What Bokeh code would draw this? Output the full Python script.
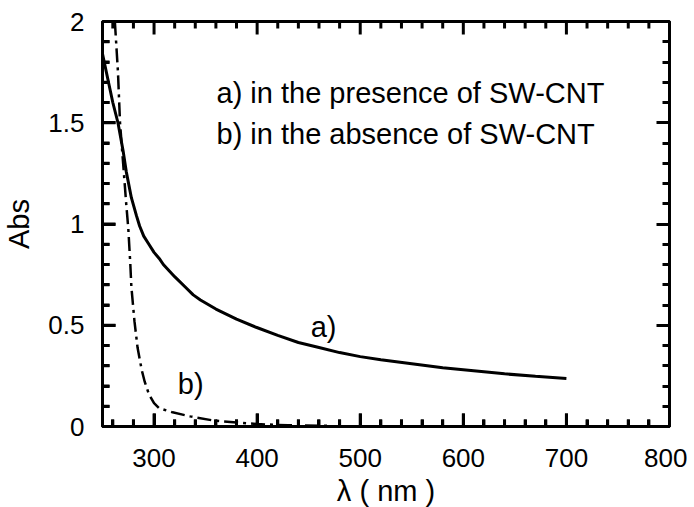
from bokeh.plotting import figure
from bokeh.models import (Range1d, FixedTicker, CustomJSTickFormatter, LinearAxis,
                          CustomLabelingPolicy)
from bokeh.core.properties import value
from bokeh.embed import file_html
from bokeh.resources import INLINE

# Curve a) in the presence of SW-CNT
wl_a = [250, 255, 260, 265, 270, 273, 278, 283, 286, 290, 295, 300, 305, 309,
        320, 330, 338, 345, 360, 370, 380, 399, 420, 440, 460, 480, 500, 520,
        550, 580, 610, 640, 670, 700]
abs_a = [1.84, 1.72, 1.60, 1.50, 1.36, 1.26, 1.13, 1.04, 0.99, 0.94, 0.90, 0.86,
         0.83, 0.80, 0.74, 0.69, 0.65, 0.625, 0.58, 0.555, 0.53, 0.49, 0.45,
         0.415, 0.39, 0.365, 0.345, 0.33, 0.31, 0.29, 0.275, 0.26, 0.248, 0.237]

# Curve b) in the absence of SW-CNT
wl_b = [262, 265, 267, 270, 273, 275, 277, 278, 281, 284, 288, 291, 295, 300,
        305, 318, 335, 357, 380, 400, 430, 470]
abs_b = [2.0, 1.75, 1.5, 1.3, 1.1, 0.98, 0.8, 0.69, 0.52, 0.39, 0.28, 0.22, 0.16,
         0.115, 0.09, 0.07, 0.05, 0.03, 0.02, 0.012, 0.006, 0.003]

# Tick values
x_major = [300, 400, 500, 600, 700, 800]
x_minor = [v for v in range(260, 800, 20) if v % 100]
y_major = [0, 0.5, 1, 1.5, 2]
y_minor = [round(v * 0.1, 1) for v in range(1, 20) if v % 5]

X0, X1, Y0, Y1 = 250, 800, 0, 2
FW, FH = 567, 405
FONT = "Liberation Sans"

p = figure(frame_width=FW, frame_height=FH, output_backend="svg",
           toolbar_location=None,
           x_range=Range1d(X0, X1), y_range=Range1d(Y0, Y1),
           min_border_left=93, min_border_right=18, min_border_top=21,
           min_border_bottom=40)
p.grid.visible = False
p.outline_line_color = "black"
p.outline_line_width = 3
p.background_fill_color = "white"
p.border_fill_color = "white"

xticker = FixedTicker(ticks=x_major, minor_ticks=x_minor)
yticker = FixedTicker(ticks=y_major, minor_ticks=y_minor)

def ticks_in(ax):
    ax.axis_line_color = "black"
    ax.axis_line_width = 3
    ax.major_tick_in = 13
    ax.major_tick_out = 0
    ax.minor_tick_in = 7
    ax.minor_tick_out = 0
    ax.major_tick_line_width = 3
    ax.minor_tick_line_width = 3
    ax.major_tick_line_color = "black"
    ax.minor_tick_line_color = "black"

for ax in (p.xaxis[0], p.yaxis[0]):
    ticks_in(ax)
    ax.major_label_text_font = FONT
    ax.major_label_text_font_size = "26px"
    ax.major_label_text_color = "black"
    ax.axis_label_text_font = FONT
    ax.axis_label_text_font_size = "29px"
    ax.axis_label_text_font_style = "normal"
    ax.axis_label_text_color = "black"

p.xaxis.ticker = xticker
p.yaxis.ticker = yticker
p.yaxis.formatter = CustomJSTickFormatter(code="return String(Math.round(tick*10)/10);")
p.xaxis.axis_label = "λ ( nm )"
p.yaxis.axis_label = "Abs"
p.xaxis.major_label_standoff = 22
p.xaxis.axis_label_standoff = 5
p.yaxis.major_label_standoff = 18
p.yaxis.axis_label_standoff = 10

no_labels = CustomLabelingPolicy(code="return new Set()")
right = LinearAxis(ticker=yticker)
ticks_in(right)
right.major_label_policy = no_labels
right.major_label_text_font_size = "1px"
right.major_label_standoff = 0
p.add_layout(right, "right")

p.line(wl_a, abs_a, line_color="black", line_width=3)
p.line(wl_b, abs_b, line_color="black", line_width=2.5, line_dash="14 5 3 5")

# inward tick marks (filled bars) on bottom, top and left edges
px_x = (X1 - X0) / FW   # data units per pixel, x
px_y = (Y1 - Y0) / FH   # data units per pixel, y
xt = [v for v in x_major if v < X1] + x_minor
xlen = [13 if v in x_major else 7 for v in xt]
p.quad(left=[v - 1.5 * px_x for v in xt], right=[v + 1.5 * px_x for v in xt],
       bottom=[Y0] * len(xt), top=[Y0 + n * px_y for n in xlen],
       fill_color="black", line_color=None, level="overlay")
p.quad(left=[v - 1.5 * px_x for v in xt], right=[v + 1.5 * px_x for v in xt],
       bottom=[Y1 - n * px_y for n in xlen], top=[Y1] * len(xt),
       fill_color="black", line_color=None, level="overlay")
yt = [v for v in y_major if Y0 < v < Y1] + y_minor
ylen = [13 if v in y_major else 7 for v in yt]
p.quad(left=[X0] * len(yt), right=[X0 + n * px_x for n in ylen],
       bottom=[v - 1.5 * px_y for v in yt], top=[v + 1.5 * px_y for v in yt],
       fill_color="black", line_color=None, level="overlay")

txt = dict(text_font=value(FONT), text_font_size="29px", text_color="black",
           text_baseline="alphabetic", text_align="left")
p.text(x=[360.6], y=[1.645], text=["a) in the presence of SW-CNT"], **txt)
p.text(x=[360.6], y=[1.445], text=["b) in the absence of SW-CNT"], **txt)
p.text(x=[452], y=[0.49], text=["a)"], **txt)
p.text(x=[323], y=[0.21], text=["b)"], **txt)

open("out.html", "w").write(file_html(p, INLINE))
